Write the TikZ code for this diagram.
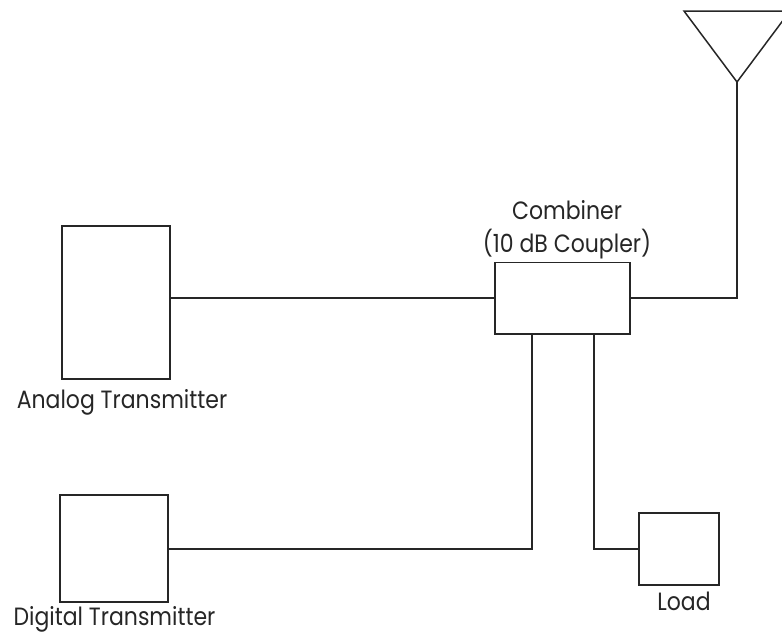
\documentclass[tikz,border=0pt]{standalone}
\usepackage{fontspec}
\setmainfont[FakeStretch=0.88]{Poppins}
\begin{document}
\begin{tikzpicture}[x=1pt,y=-1pt,
 blk/.style={draw=black!85,line width=1.5pt,fill=white,inner sep=0pt,outer sep=0pt},
 wire/.style={draw=black!85,line width=1.5pt,line join=miter},
 heavy/.style={draw=black!85,line width=2pt,line join=miter},
 lab/.style={font=\fontsize{25}{33}\selectfont,align=center,text=black!85,inner sep=0pt}]
\useasboundingbox (0,0) rectangle (782,635);
\node[blk,minimum width=108pt,minimum height=153pt] (analog) at (116,302.5) {};
\node[blk,minimum width=108pt,minimum height=107pt] (digital) at (114,548.5) {};
\node[blk,minimum width=135pt,minimum height=71.5pt] (comb) at (562.5,298) {};
\node[blk,minimum width=80pt,minimum height=72pt] (load) at (679,549) {};
\coordinate (tip) at (737,82);
\coordinate (tl) at (684,11);
\coordinate (tr) at (790,11);
\begin{scope}
\clip (0,0) rectangle (782,635);
\draw[wire] (tl) -- (tr) -- (tip) -- cycle;
\end{scope}
\coordinate (corner) at (737,298);
\draw[wire] (tip) -- (corner) -- (comb.east);
\draw[wire] (comb.west) -- (comb.west -| analog.east);
\coordinate (c1) at (532,333.75);
\coordinate (c2) at (594,333.75);
\draw[heavy] (c1) -- (532,548.7) -- (digital.east |- 0,548.7);
\draw[heavy] (c2) -- (594,548.7) -- (load.west |- 0,548.7);
\node[lab] (tcomb) at (567,230) {Combiner\\(10 dB Coupler)};
\node[lab,anchor=base] (tana) at (122,408) {Analog Transmitter};
\node[lab,anchor=base] (tdig) at (114.5,625.5) {Digital Transmitter};
\node[lab,anchor=base] (tload) at (684,610) {Load};
\end{tikzpicture}
\end{document}
